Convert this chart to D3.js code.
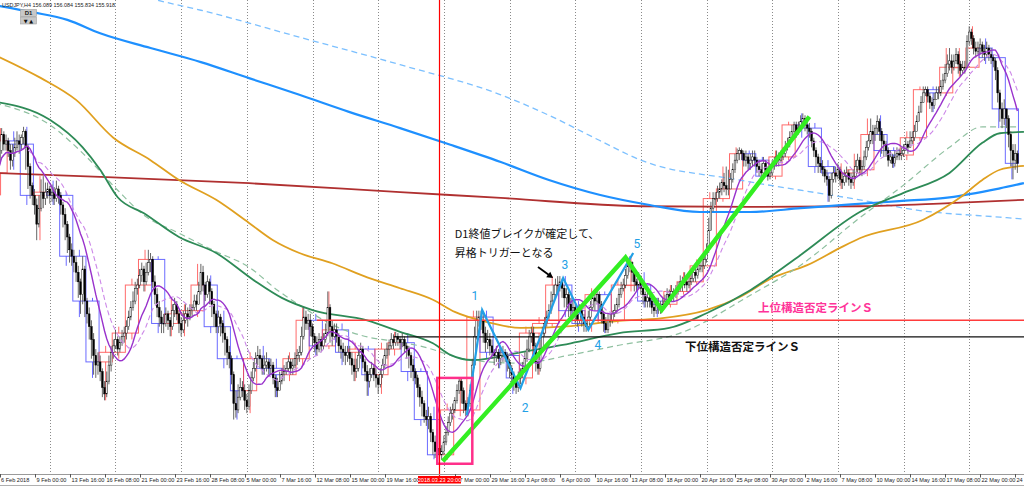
<!DOCTYPE html>
<html><head><meta charset="utf-8">
<script src="https://cdn.jsdelivr.net/npm/d3@7"></script>
<style>body{margin:0;background:#fff;overflow:hidden}svg{display:block}</style>
</head><body>
<svg id="c" width="1024" height="487"></svg>
<script>
// ---------------- DATA ----------------
const symbolTitle = "USDJPY,H4  156.089 156.084 155.834 155.918";
const firstOpen = 109.10;
// H4 closes, one line per trading day (6 bars), 6 Feb 2018 .. 24 May 2018
const h4Close = [
108.95,109.25,109.45,109.70,109.55,109.60, 109.45,109.30,109.40,109.50,109.60,109.55,
109.65,109.75,109.50,109.20,108.90,108.75, 108.60,108.30,108.55,108.80,108.70,108.80,
108.85,108.75,108.80,108.70,108.85,108.75, 108.60,108.45,108.30,108.10,107.90,107.80,
107.70,107.55,107.40,107.20,107.60,107.10, 106.90,106.70,106.50,106.25,106.10,106.15,
106.00,105.75,105.65,105.85,106.10,106.30, 106.40,106.50,106.35,106.45,106.55,106.60,
106.70,106.85,107.00,107.10,107.30,107.35, 107.50,107.60,107.40,107.55,107.70,107.75,
107.40,107.20,107.00,106.85,106.75,106.75, 106.90,106.80,106.70,106.95,107.05,106.90,
106.75,106.65,106.80,106.90,106.85,106.95, 107.00,107.10,107.05,107.25,107.55,107.35,
107.20,107.40,107.25,107.05,106.90,106.70, 106.85,106.75,106.60,106.50,106.30,106.20,
105.95,105.50,105.40,105.60,105.75,105.70, 105.55,105.45,105.70,105.90,106.05,106.20,
106.25,106.20,106.05,106.10,106.15,106.05, 106.10,105.90,105.75,105.70,105.85,105.95,
106.00,106.05,106.15,106.05,106.10,106.20, 106.25,106.30,106.55,106.85,106.75,106.80,
106.70,106.55,106.45,106.35,106.50,106.40, 106.50,106.60,107.00,106.70,106.55,106.65,
106.55,106.40,106.35,106.30,106.25,106.30, 106.20,106.10,106.00,106.05,106.25,106.35,
106.15,106.00,105.85,105.95,106.05,105.95, 105.90,105.80,105.95,106.10,106.25,106.35,
106.40,106.50,106.45,106.55,106.50,106.45, 106.50,106.40,106.35,106.25,106.10,106.00,
105.90,105.75,105.60,105.50,105.30,105.25, 105.30,105.05,104.90,104.75,104.80,104.70,
104.75,104.90,105.05,105.20,105.35,105.40, 105.55,105.70,105.85,105.70,105.50,105.40,
105.50,105.70,106.10,106.55,106.80,106.85, 106.80,106.60,106.45,106.50,106.40,106.30,
106.25,106.30,106.20,106.25,106.30,106.25, 106.15,106.05,105.95,105.85,105.75,105.90,
105.95,106.05,106.20,106.35,106.55,106.60, 106.40,106.15,106.05,106.35,106.60,106.75,
106.85,106.95,107.10,107.20,107.35,107.35, 107.40,107.30,107.15,107.20,107.05,106.95,
107.00,106.90,106.80,106.95,106.85,106.75, 106.70,106.85,107.00,107.15,107.10,107.20,
107.05,106.90,106.75,106.65,106.80,106.80, 106.90,106.95,107.05,107.20,107.30,107.35,
107.50,107.65,107.70,107.55,107.40,107.35, 107.45,107.30,107.20,107.10,107.15,107.10,
107.00,106.95,107.05,107.00,107.00,107.05, 107.10,107.20,107.15,107.25,107.20,107.25,
107.30,107.40,107.35,107.40,107.35,107.40, 107.45,107.55,107.50,107.60,107.65,107.65,
107.75,107.90,108.20,108.55,108.70,108.70, 108.80,108.85,108.95,108.90,108.85,108.85,
109.00,109.15,109.30,109.40,109.45,109.40, 109.30,109.35,109.25,109.30,109.35,109.30,
109.20,109.15,109.10,109.25,109.15,109.05, 109.10,109.20,109.25,109.35,109.30,109.35,
109.40,109.50,109.55,109.65,109.75,109.85, 109.75,109.80,109.90,109.95,109.85,109.80,
109.75,109.60,109.45,109.35,109.25,109.20, 109.15,109.05,109.00,108.75,109.00,109.10,
109.05,109.15,109.00,108.95,109.05,109.10, 109.00,108.95,109.05,109.20,109.30,109.15,
109.20,109.35,109.50,109.60,109.75,109.70, 109.80,109.90,109.75,109.60,109.55,109.45,
109.30,109.35,109.25,109.35,109.40,109.38, 109.40,109.45,109.55,109.50,109.60,109.65,
109.75,109.90,110.05,110.20,110.35,110.40, 110.30,110.20,110.15,110.25,110.35,110.35,
110.45,110.55,110.65,110.80,110.85,110.75, 110.85,110.95,110.80,110.70,110.75,110.75,
111.15,111.30,111.20,111.05,111.00,111.05, 111.10,111.00,110.95,111.05,110.95,110.90,
110.85,110.70,110.35,110.10,109.95,110.10, 109.95,109.70,109.45,109.30,109.40,109.25
];
const h4High = [
109.20,109.35,109.55,109.80,109.75,109.70, 109.65,109.55,109.55,109.65,109.75,109.70,
109.70,109.82,109.78,109.55,109.25,108.95, 108.85,108.70,108.75,109.00,109.05,108.95,
108.95,108.90,108.92,108.88,108.98,108.90, 108.80,108.65,108.55,108.35,108.15,108.00,
107.90,107.80,107.65,107.45,107.80,107.65, 107.15,107.00,106.80,106.60,106.35,106.30,
106.25,106.05,105.85,106.00,106.25,106.40, 106.50,106.65,106.55,106.55,106.65,106.70,
106.80,106.95,107.10,107.25,107.40,107.45, 107.60,107.70,107.65,107.70,107.90,107.85,
107.80,107.50,107.30,107.10,106.95,106.90, 107.00,106.95,106.85,107.05,107.15,107.10,
106.95,106.85,106.95,107.05,107.00,107.05, 107.05,107.20,107.20,107.40,107.68,107.65,
107.40,107.50,107.45,107.30,107.10,106.95, 106.95,106.90,106.80,106.70,106.55,106.40,
106.25,106.00,105.70,105.80,105.90,105.85, 105.80,105.65,105.80,106.00,106.15,106.30,
106.40,106.35,106.25,106.25,106.30,106.20, 106.20,106.15,105.95,105.90,106.00,106.05,
106.10,106.15,106.25,106.20,106.20,106.30, 106.35,106.40,106.70,107.00,106.95,106.90,
106.90,106.75,106.60,106.55,106.60,106.55, 106.60,106.75,107.25,107.05,106.80,106.75,
106.75,106.60,106.50,106.45,106.40,106.40, 106.40,106.30,106.20,106.20,106.35,106.45,
106.40,106.20,106.10,106.05,106.15,106.10, 106.05,105.95,106.05,106.20,106.35,106.45,
106.50,106.60,106.58,106.62,106.60,106.55, 106.60,106.55,106.45,106.40,106.30,106.20,
106.05,105.95,105.80,105.70,105.55,105.40, 105.45,105.35,105.10,105.00,104.95,104.90,
104.85,105.00,105.15,105.30,105.45,105.50, 105.60,105.80,105.90,105.90,105.75,105.55,
105.60,105.80,106.20,106.70,106.95,106.95, 106.95,106.90,106.70,106.65,106.60,106.50,
106.35,106.40,106.35,106.35,106.40,106.35, 106.30,106.20,106.10,106.00,105.90,106.00,
106.05,106.15,106.30,106.50,106.65,106.70, 106.70,106.45,106.25,106.50,106.70,106.85,
106.95,107.05,107.25,107.35,107.45,107.49, 107.49,107.45,107.35,107.30,107.25,107.15,
107.10,107.05,106.95,107.05,107.00,106.90, 106.80,106.95,107.10,107.25,107.25,107.30,
107.25,107.10,106.95,106.85,106.90,106.90, 106.95,107.05,107.15,107.30,107.40,107.45,
107.60,107.78,107.80,107.72,107.60,107.45, 107.55,107.50,107.35,107.25,107.25,107.20,
107.15,107.10,107.15,107.15,107.10,107.15, 107.20,107.30,107.28,107.35,107.30,107.35,
107.40,107.50,107.48,107.55,107.50,107.50, 107.55,107.65,107.65,107.70,107.75,107.75,
107.85,108.00,108.40,108.65,108.80,108.80, 108.90,108.95,109.00,109.10,109.20,109.15,
109.10,109.25,109.40,109.48,109.50,109.48, 109.45,109.45,109.40,109.40,109.45,109.45,
109.35,109.30,109.25,109.35,109.30,109.20, 109.20,109.30,109.35,109.45,109.42,109.45,
109.50,109.60,109.65,109.75,109.85,109.90, 109.90,109.90,110.00,110.03,110.00,109.95,
109.88,109.80,109.65,109.50,109.40,109.35, 109.30,109.20,109.15,109.05,109.10,109.20,
109.20,109.25,109.20,109.10,109.15,109.20, 109.15,109.10,109.15,109.30,109.40,109.35,
109.30,109.45,109.60,109.70,109.95,109.85, 109.85,110.00,109.95,109.80,109.70,109.60,
109.50,109.45,109.40,109.45,109.50,109.48, 109.50,109.55,109.65,109.60,109.75,109.75,
109.85,110.00,110.15,110.30,110.45,110.45, 110.45,110.35,110.28,110.35,110.45,110.45,
110.55,110.65,110.80,110.95,111.05,110.95, 110.95,111.05,111.00,110.85,110.85,110.85,
111.25,111.39,111.35,111.25,111.15,111.15, 111.20,111.15,111.10,111.15,111.10,111.05,
110.95,110.90,110.75,110.40,110.20,110.25, 110.10,110.00,109.75,109.55,109.55,109.45
];
const h4Low = [
108.75,108.90,109.20,109.40,109.45,109.45, 109.35,109.15,109.20,109.35,109.45,109.40,
109.45,109.55,109.15,108.85,108.70,108.60, 108.45,108.05,108.25,108.50,108.55,108.60,
108.70,108.62,108.65,108.60,108.65,108.62, 108.45,108.25,108.05,107.85,107.70,107.65,
107.55,107.40,107.15,106.90,107.05,106.85, 106.75,106.50,106.20,105.95,105.90,105.95,
105.85,105.60,105.55,105.60,105.80,106.00, 106.20,106.35,106.25,106.30,106.40,106.45,
106.50,106.65,106.80,106.95,107.05,107.20, 107.30,107.40,107.25,107.35,107.50,107.55,
107.30,107.05,106.85,106.70,106.60,106.60, 106.70,106.65,106.55,106.65,106.85,106.80,
106.60,106.55,106.60,106.75,106.70,106.80, 106.85,106.95,106.95,107.05,107.20,107.25,
107.10,107.15,107.05,106.85,106.70,106.60, 106.60,106.55,106.45,106.25,106.10,106.05,
105.80,105.25,105.28,105.35,105.55,105.60, 105.40,105.35,105.40,105.65,105.85,106.00,
106.10,106.05,105.95,105.95,106.00,105.95, 105.95,105.80,105.60,105.60,105.70,105.80,
105.85,105.95,106.00,105.95,105.95,106.05, 106.10,106.15,106.25,106.50,106.65,106.65,
106.55,106.40,106.30,106.25,106.30,106.30, 106.35,106.45,106.55,106.45,106.40,106.50,
106.45,106.30,106.20,106.15,106.10,106.15, 106.10,105.95,105.85,105.90,106.00,106.20,
106.05,105.85,105.62,105.75,105.90,105.85, 105.75,105.65,105.75,105.90,106.05,106.20,
106.25,106.35,106.35,106.40,106.40,106.35, 106.38,106.30,106.20,106.05,105.90,105.85,
105.80,105.60,105.45,105.30,105.20,105.15, 105.10,104.90,104.70,104.65,104.65,104.63,
104.62,104.70,104.85,105.00,105.15,105.25, 105.35,105.50,105.65,105.50,105.35,105.30,
105.30,105.45,105.65,106.05,106.50,106.70, 106.65,106.45,106.30,106.35,106.25,106.20,
106.10,106.15,106.05,106.10,106.15,106.15, 106.00,105.90,105.80,105.70,105.65,105.68,
105.80,105.90,106.00,106.15,106.30,106.45, 106.30,106.00,105.95,106.00,106.30,106.55,
106.70,106.80,106.90,107.05,107.15,107.25, 107.25,107.15,107.00,107.00,106.85,106.85,
106.85,106.75,106.70,106.75,106.70,106.62, 106.62,106.65,106.80,106.95,106.95,107.05,
106.95,106.75,106.62,106.60,106.60,106.70, 106.75,106.85,106.90,107.00,107.15,107.25,
107.30,107.45,107.55,107.40,107.25,107.25, 107.30,107.20,107.05,107.00,107.00,107.00,
106.90,106.85,106.90,106.90,106.90,106.95, 107.00,107.05,107.05,107.10,107.10,107.15,
107.20,107.25,107.25,107.30,107.25,107.30, 107.35,107.40,107.40,107.45,107.55,107.55,
107.60,107.70,107.85,108.20,108.50,108.60, 108.65,108.70,108.75,108.80,108.75,108.75,
108.85,108.95,109.10,109.25,109.30,109.30, 109.20,109.20,109.15,109.15,109.20,109.20,
109.10,109.05,109.00,109.05,109.05,108.98, 109.00,109.05,109.15,109.20,109.20,109.25,
109.30,109.35,109.45,109.50,109.60,109.70, 109.65,109.70,109.75,109.80,109.75,109.70,
109.65,109.50,109.35,109.20,109.10,109.10, 109.05,108.95,108.90,108.65,108.70,108.95,
108.95,109.00,108.90,108.85,108.90,108.95, 108.90,108.85,108.90,109.00,109.10,109.05,
109.05,109.15,109.30,109.45,109.55,109.55, 109.60,109.70,109.60,109.40,109.35,109.35,
109.20,109.25,109.18,109.20,109.30,109.30, 109.30,109.35,109.45,109.40,109.50,109.55,
109.60,109.75,109.90,110.05,110.20,110.30, 110.20,110.10,110.05,110.10,110.25,110.25,
110.30,110.40,110.50,110.60,110.70,110.65, 110.70,110.80,110.65,110.60,110.65,110.65,
110.75,111.10,111.10,110.95,110.90,110.95, 110.95,110.90,110.85,110.90,110.85,110.80,
110.75,110.55,110.20,109.90,109.80,109.85, 109.80,109.50,109.20,109.00,109.15,109.10
];

// Long moving averages (bar index -> price)
const blueMaBars = [0,17,33,48,71,94,116,139,162,185,208,231,253,276,299,322,345,368,391,413,436,459,470];
const blueMaVals = [111.72,111.61,111.49,111.28,111.05,110.83,110.58,110.32,110.05,109.80,109.54,109.27,108.99,108.76,108.60,108.49,108.49,108.55,108.61,108.66,108.72,108.86,108.94];
const skyDashBars = [0,48,74,94,139,185,231,253,276,295,340,395,421,459,470];
const skyDashVals = [112.55,112.08,111.80,111.64,111.22,110.79,110.32,110.00,109.61,109.30,108.99,108.68,108.52,108.41,108.38];
const redMaBars = [0,48,116,185,231,295,345,395,436,470];
const redMaVals = [109.10,109.04,108.94,108.80,108.71,108.58,108.57,108.58,108.63,108.68];
const orangeMaBars = [0,21,37,54,71,84,101,116,127,139,154,170,185,200,210,225,240,263,285,304,325,340,355,371,386,395,424,441,451,459,470];
const orangeMaVals = [110.94,110.58,110.24,109.65,109.30,108.99,108.68,108.32,108.05,107.85,107.69,107.47,107.30,107.12,106.93,106.77,106.68,106.71,106.79,106.83,106.96,107.16,107.46,107.66,107.93,108.08,108.37,108.72,108.99,109.15,109.21];
const greenMaBars = [0,25,40,48,56,68,84,101,118,131,145,170,185,200,208,218,240,263,285,308,325,345,368,395,415,436,451,459,470];
const greenMaVals = [110.21,109.93,109.50,109.15,108.72,108.47,108.10,107.85,107.43,107.15,106.96,106.80,106.62,106.44,106.26,106.18,106.30,106.44,106.60,106.68,106.91,107.27,107.82,108.49,108.79,109.10,109.57,109.72,109.74];
const paleGreenBars = [0,25,40,56,68,84,101,116,129,139,154,170,185,194,217,240,263,285,313,345,368,395,415,436,451,467];
const paleGreenVals = [110.19,109.85,109.41,108.83,108.44,108.16,107.87,107.63,107.27,107.04,106.73,106.54,106.46,106.40,106.18,106.13,106.26,106.41,106.60,107.19,107.66,108.40,108.91,109.50,109.82,109.82];
const fastMaPeriod = 14, slowMaPeriod = 21;

// Axis
const tickBars = [18,34,50,66,82,98,114,130,146,162,178,210,226,242,258,274,290,306,322,338,354,370,386,402,418,434,450,466];
const tickLabels = ["9 Feb 00:00","13 Feb 16:00","16 Feb 08:00","21 Feb 00:00","23 Feb 16:00","28 Feb 08:00","5 Mar 00:00","7 Mar 16:00","12 Mar 08:00","15 Mar 00:00","19 Mar 16:00","27 Mar 00:00","29 Mar 16:00","3 Apr 08:00","6 Apr 00:00","10 Apr 16:00","13 Apr 08:00","18 Apr 00:00","20 Apr 16:00","25 Apr 08:00","30 Apr 00:00","2 May 16:00","7 May 08:00","10 May 00:00","14 May 16:00","17 May 08:00","22 May 00:00","24 May 16:00"];
const firstLabel = "6 Feb 2018";
const markerBar = 203, markerLabel = "2018.03.23 20:00";

// Drawn objects
const upperLine = {bar: 147, price: 106.80, label: "上位構造否定ラインＳ", labelBar: 348.5, labelPrice: 106.93};
const lowerLine = {bar: 182, price: 106.54, label: "下位構造否定ラインＳ", labelBar: 315.2, labelPrice: 106.32};
const boxBars = [202, 218], boxPrices = [105.90, 104.56];
const greenZigBars = [204.5, 288, 304.5, 372];
const greenZigPrices = [104.60, 107.78, 106.96, 109.98];
const blueZigBars = [215.5, 222.5, 240, 259.5, 271, 291.5];
const blueZigPrices = [105.32, 106.96, 105.74, 107.46, 106.65, 107.85];
const waveLabels = ["1","2","3","4","5"];
const waveBars = [219.2, 242.1, 260.3, 275.4, 293.2];
const wavePrices = [107.18, 105.43, 107.66, 106.41, 107.99];
const noteLines = ["D1終値ブレイクが確定して、", "昇格トリガーとなる"];
const noteBar = 210, notePrice = 108.08;
const arrowBars = [248, 254.9], arrowPrices = [107.63, 107.46];

// ---------------- CHART ----------------
const W = 1024, H = 487, plotB = 474;
const x = d3.scaleLinear().domain([0, 470]).range([-4.9, -4.9 + 470 * 2.189]);
const y = d3.scaleLinear().domain([104.40, 111.80]).range([plotB, 0]);
const svg = d3.select("#c");
const defs = svg.append("defs");
defs.append("clipPath").attr("id", "pc")
  .append("rect").attr("x", 0).attr("y", 0).attr("width", W).attr("height", plotB);
const plot = svg.append("g").attr("clip-path", "url(#pc)");

const bars = h4Close.map((c, i) => {
  const o = i === 0 ? firstOpen : h4Close[i - 1];
  return {i, o, c, h: Math.max(h4High[i], o, c), l: Math.min(h4Low[i], o, c)};
});
const days = d3.range(Math.ceil(bars.length / 6)).map(d => {
  const seg = bars.slice(d * 6, d * 6 + 6);
  return {i0: d * 6, i1: d * 6 + seg.length - 1, o: seg[0].o, c: seg[seg.length - 1].c,
          h: d3.max(seg, b => b.h), l: d3.min(seg, b => b.l)};
});

// grid
plot.selectAll("line.grid").data(d3.range(25, 470, 30)).join("line")
  .attr("x1", d => Math.round(x(d)) + 0.5).attr("x2", d => Math.round(x(d)) + 0.5)
  .attr("y1", 0).attr("y2", plotB)
  .attr("stroke", "#8a8a8a").attr("stroke-width", 1).attr("stroke-dasharray", "1,2");

// D1 boxes
const dayG = plot.append("g");
days.forEach(d => {
  const col = d.c >= d.o ? "rgba(255,70,70,0.8)" : "rgba(70,70,255,0.8)";
  const x0 = x(d.i0 - 0.5), x1 = x(d.i1 + 0.5), xm = (x0 + x1) / 2;
  const top = y(Math.max(d.o, d.c)), bot = y(Math.min(d.o, d.c));
  dayG.append("rect").attr("x", x0).attr("y", top).attr("width", x1 - x0).attr("height", Math.max(bot - top, 0.5))
    .attr("fill", "none").attr("stroke", col).attr("stroke-width", 1);
  dayG.append("line").attr("x1", xm).attr("x2", xm).attr("y1", y(d.h)).attr("y2", top).attr("stroke", col);
  dayG.append("line").attr("x1", xm).attr("x2", xm).attr("y1", bot).attr("y2", y(d.l)).attr("stroke", col);
});

// long MAs
function maLine(bs, vs, color, width, dash) {
  const pts = bs.map((b, k) => [x(b), y(vs[k])]);
  plot.append("path").attr("d", d3.line().curve(d3.curveMonotoneX)(pts))
    .attr("fill", "none").attr("stroke", color).attr("stroke-width", width)
    .attr("stroke-dasharray", dash || null);
}
maLine(skyDashBars, skyDashVals, "#7cc0ff", 1.3, "6,4");
maLine(redMaBars, redMaVals, "#b03030", 1.8);
maLine(blueMaBars, blueMaVals, "#1e90ff", 2.2);
maLine(orangeMaBars, orangeMaVals, "#e0a020", 1.8);
maLine(paleGreenBars, paleGreenVals, "#8fc0a0", 1.2, "6,4");
maLine(greenMaBars, greenMaVals, "#2e8b57", 1.8);

// candles
const cg = plot.append("g");
cg.selectAll("line").data(bars).join("line")
  .attr("x1", d => x(d.i)).attr("x2", d => x(d.i))
  .attr("y1", d => y(d.h)).attr("y2", d => y(d.l))
  .attr("stroke", "#555").attr("stroke-width", 0.9);
cg.selectAll("rect").data(bars).join("rect")
  .attr("x", d => x(d.i) - 0.85).attr("width", 1.7)
  .attr("y", d => y(Math.max(d.o, d.c)))
  .attr("height", d => Math.max(Math.abs(y(d.o) - y(d.c)), 0.8))
  .attr("fill", d => d.c >= d.o ? "#fff" : "#000")
  .attr("stroke", "#000").attr("stroke-width", 0.45);

// fast MAs computed from closes
function sma(n) { return h4Close.map((c, i) => d3.mean(h4Close.slice(Math.max(0, i - n + 1), i + 1))); }
const fastLine = d3.line().x((d, i) => x(i)).y(d => y(d));
plot.append("path").attr("d", fastLine(sma(slowMaPeriod))).attr("fill", "none")
  .attr("stroke", "#cc88e8").attr("stroke-width", 1.1).attr("stroke-dasharray", "5,3");
plot.append("path").attr("d", fastLine(sma(fastMaPeriod))).attr("fill", "none")
  .attr("stroke", "#9932cc").attr("stroke-width", 1.4);

// horizontal structure lines
plot.append("line").attr("x1", x(upperLine.bar)).attr("x2", W).attr("y1", y(upperLine.price)).attr("y2", y(upperLine.price))
  .attr("stroke", "#ff3b3b").attr("stroke-width", 1.5);
plot.append("line").attr("x1", x(lowerLine.bar)).attr("x2", W).attr("y1", y(lowerLine.price)).attr("y2", y(lowerLine.price))
  .attr("stroke", "#111").attr("stroke-width", 1.3);

// vertical marker
const mx = Math.round(x(markerBar)) + 0.5;
svg.append("line").attr("x1", mx).attr("x2", mx)
  .attr("y1", 0).attr("y2", 477).attr("stroke", "#ff0000").attr("stroke-width", 1.2);

// zigzags
plot.append("path").attr("d", d3.line()(blueZigBars.map((b, k) => [x(b), y(blueZigPrices[k])])))
  .attr("fill", "none").attr("stroke", "#22a0e6").attr("stroke-width", 2.2).attr("stroke-linejoin", "miter");
plot.append("path").attr("d", d3.line()(greenZigBars.map((b, k) => [x(b), y(greenZigPrices[k])])))
  .attr("fill", "none").attr("stroke", "#33ee22").attr("stroke-width", 4.5).attr("stroke-linejoin", "miter");

// magenta box
plot.append("rect").attr("x", x(boxBars[0])).attr("y", y(boxPrices[0]))
  .attr("width", x(boxBars[1]) - x(boxBars[0])).attr("height", y(boxPrices[1]) - y(boxPrices[0]))
  .attr("fill", "none").attr("stroke", "#ff2f8a").attr("stroke-width", 2.5);

// wave labels
plot.selectAll("text.wave").data(waveLabels).join("text")
  .attr("x", (d, k) => x(waveBars[k])).attr("y", (d, k) => y(wavePrices[k]))
  .attr("text-anchor", "middle").attr("dominant-baseline", "central")
  .attr("font-family", "Roboto, 'Liberation Sans', sans-serif").attr("font-size", 12)
  .attr("fill", "#22a0e6").text(d => d);

// note text
const jp = "'Noto Sans CJK JP', sans-serif";
noteLines.forEach((t, k) => {
  plot.append("text").attr("x", x(noteBar)).attr("y", y(notePrice) + k * 18.5)
    .attr("font-family", jp).attr("font-size", 11).attr("fill", "#111").text(t);
});
// arrow
const ax0 = x(arrowBars[0]), ay0 = y(arrowPrices[0]), ax1 = x(arrowBars[1]), ay1 = y(arrowPrices[1]);
plot.append("line").attr("x1", ax0).attr("y1", ay0).attr("x2", ax1 - 2).attr("y2", ay1 - 1.5)
  .attr("stroke", "#000").attr("stroke-width", 1.8);
{
  const ang = Math.atan2(ay1 - ay0, ax1 - ax0), L = 6, Wd = 3.5;
  const bx = ax1 - L * Math.cos(ang), by = ay1 - L * Math.sin(ang);
  const px = -Math.sin(ang) * Wd, py = Math.cos(ang) * Wd;
  plot.append("path").attr("d", `M${ax1},${ay1}L${bx + px},${by + py}L${bx - px},${by - py}Z`).attr("fill", "#000");
}
// structure line labels
plot.append("text").attr("x", x(upperLine.labelBar)).attr("y", y(upperLine.labelPrice))
  .attr("font-family", jp).attr("font-size", 11.5).attr("font-weight", "bold").attr("fill", "#ff3399").text(upperLine.label);
plot.append("text").attr("x", x(lowerLine.labelBar)).attr("y", y(lowerLine.labelPrice))
  .attr("font-family", jp).attr("font-size", 11.5).attr("font-weight", "bold").attr("fill", "#111").text(lowerLine.label);

// time axis
svg.append("line").attr("x1", 0).attr("x2", W).attr("y1", plotB + 0.5).attr("y2", plotB + 0.5).attr("stroke", "#9a9a9a");
svg.append("line").attr("x1", 0).attr("x2", W).attr("y1", 485.5).attr("y2", 485.5).attr("stroke", "#b0b0b0");
const labelRect = [mx - 21.5, 476, 43, 7.5];
defs.append("clipPath").attr("id", "axc").append("rect")
  .attr("x", labelRect[0] + labelRect[2]).attr("y", 470).attr("width", W).attr("height", 17);
const axG = svg.append("g").attr("font-family", "'Liberation Sans', Arial, sans-serif").attr("font-size", 5.6).attr("fill", "#222");
axG.selectAll("line").data(tickBars).join("line")
  .attr("x1", d => Math.round(x(d)) + 0.5).attr("x2", d => Math.round(x(d)) + 0.5)
  .attr("y1", plotB).attr("y2", plotB + 3.5).attr("stroke", "#555");
axG.selectAll("text").data(tickLabels).join("text")
  .attr("x", (d, k) => Math.round(x(tickBars[k])) + 1.5).attr("y", 481.8)
  .attr("clip-path", (d, k) => (x(tickBars[k]) < labelRect[0] + labelRect[2] && x(tickBars[k]) > labelRect[0]) ? "url(#axc)" : null)
  .text(d => d);
axG.append("text").attr("x", 1).attr("y", 481.8).text(firstLabel);
axG.append("line").attr("x1", 0.5).attr("x2", 0.5).attr("y1", plotB).attr("y2", plotB + 3.5).attr("stroke", "#555");
// marker label
svg.append("rect").attr("x", labelRect[0]).attr("y", labelRect[1]).attr("width", labelRect[2]).attr("height", labelRect[3]).attr("fill", "#ff0000");
svg.append("text").attr("x", mx).attr("y", 481.9).attr("text-anchor", "middle")
  .attr("font-family", "'Liberation Sans', Arial, sans-serif").attr("font-size", 5.6).attr("fill", "#fff").text(markerLabel);

// header + D1 button
svg.append("text").attr("x", 2).attr("y", 7).attr("font-family", "'Liberation Sans', Arial, sans-serif")
  .attr("font-size", 5.4).attr("fill", "#222").text(symbolTitle);
svg.append("rect").attr("x", 20.5).attr("y", 9.5).attr("width", 16).attr("height", 7).attr("fill", "#c8c8c8").attr("stroke", "#a0a0a0").attr("stroke-width", 0.6);
svg.append("text").attr("x", 28.5).attr("y", 15.2).attr("text-anchor", "middle").attr("font-family", "'Liberation Sans', Arial, sans-serif")
  .attr("font-size", 6).attr("font-weight", "bold").attr("fill", "#222").text("D1");
svg.append("rect").attr("x", 20.5).attr("y", 17).attr("width", 16).attr("height", 7).attr("fill", "#c8c8c8").attr("stroke", "#a0a0a0").attr("stroke-width", 0.6);
svg.append("text").attr("x", 28.5).attr("y", 22.6).attr("text-anchor", "middle").attr("font-family", "'DejaVu Sans', sans-serif")
  .attr("font-size", 5).attr("fill", "#111").text("▼ ▲");
</script>
</body></html>
